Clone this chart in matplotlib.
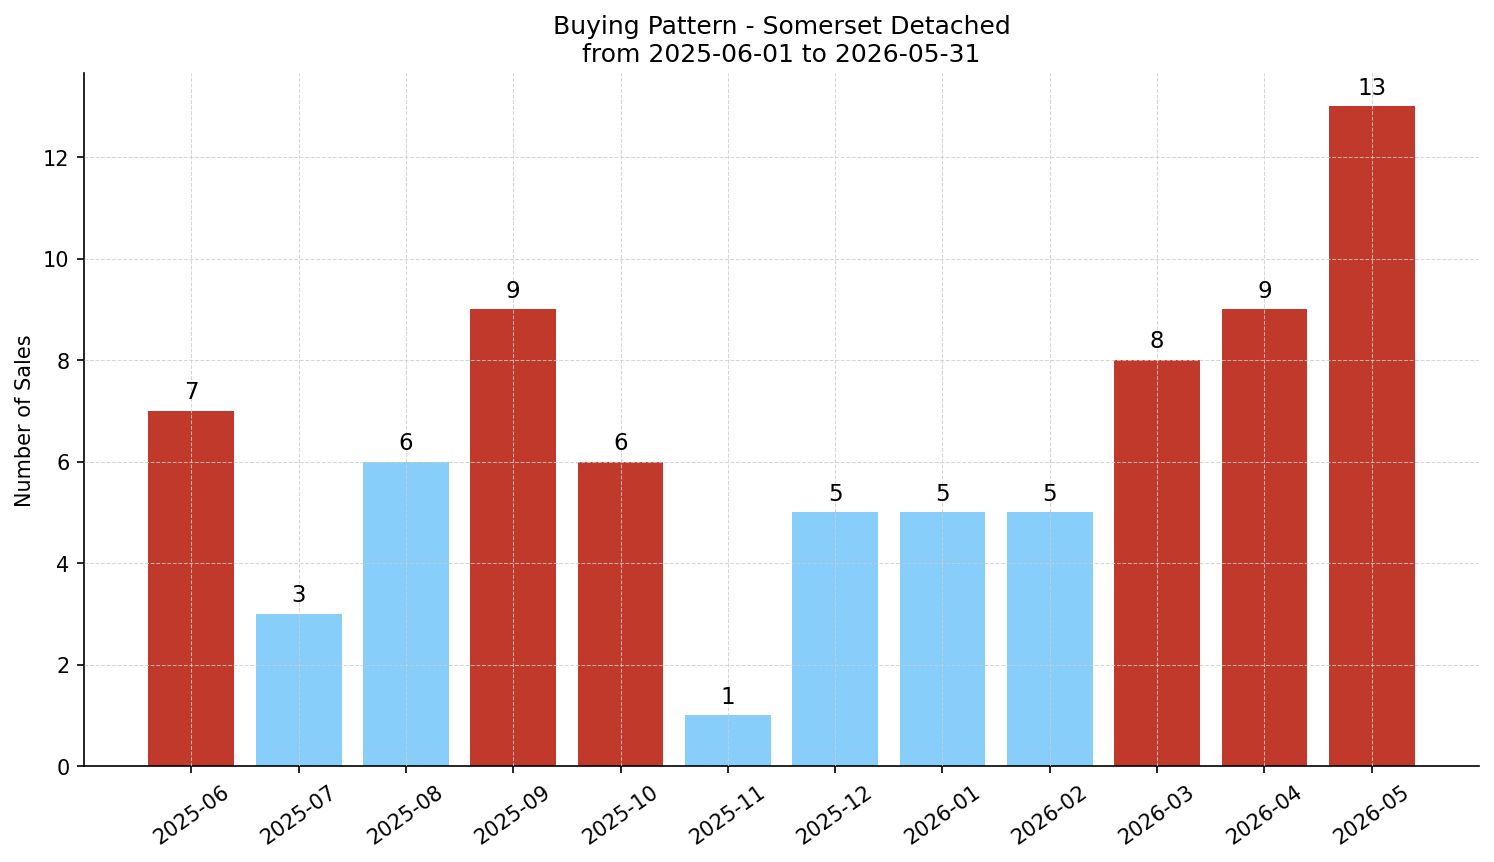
import matplotlib
matplotlib.use("Agg")
import matplotlib.pyplot as plt
import numpy as np

# monthly sales counts
months = ["2025-06", "2025-07", "2025-08", "2025-09", "2025-10", "2025-11",
          "2025-12", "2026-01", "2026-02", "2026-03", "2026-04", "2026-05"]
sales = [7, 3, 6, 9, 6, 1, 5, 5, 5, 8, 9, 13]
# True = highlighted (red) month
highlight = [True, False, False, True, True, False,
             False, False, False, True, True, True]

RED = "#c0392b"
BLUE = "#87cefa"

fig, ax = plt.subplots(figsize=(9.96, 5.753), dpi=150)
fig.subplots_adjust(left=0.0562, right=0.99, bottom=0.1112, top=0.914)

x = np.arange(len(months))
colors = [RED if h else BLUE for h in highlight]
bars = ax.bar(x, sales, width=0.8, color=colors, zorder=2)

for xi, v in zip(x, sales):
    ax.text(xi, v + 0.15, str(v), ha="center", va="bottom", fontsize=11)

ax.set_xticks(x)
ax.set_xticklabels(months, rotation=35)
ax.set_xlim(-1, 12)
ax.set_ylim(0, max(sales) * 1.05)
ax.set_ylabel("Number of Sales")
ax.set_title("Buying Pattern - Somerset Detached\nfrom 2025-06-01 to 2026-05-31", fontsize=12)

ax.grid(True, linestyle="--", linewidth=0.5, color="#cccccc", alpha=0.8, zorder=0)
ax.set_axisbelow(False)
ax.spines["top"].set_visible(False)
ax.spines["right"].set_visible(False)

fig.savefig("out.png", dpi=150)
